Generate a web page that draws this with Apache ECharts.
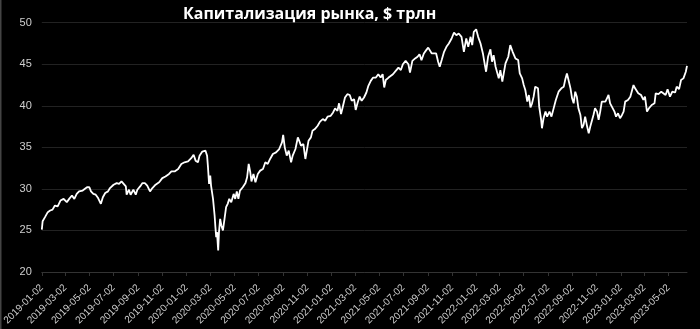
<!DOCTYPE html>
<html>
<head>
<meta charset="utf-8">
<script src="https://cdn.jsdelivr.net/npm/echarts@6/dist/echarts.min.js"></script>
<style>
html,body{margin:0;padding:0;background:#000;}
#main{width:700px;height:329px;}
</style>
</head>
<body>
<div id="main"></div>
<script>
const titleText = 'Капитализация рынка, $ трлн';
const startDate = '2019-01-02';
const endDate = '2023-06-18';
const yTicks = [20, 25, 30, 35, 40, 45, 50];

const dates = [
'2019-01-02','2019-01-04','2019-01-10','2019-01-17','2019-01-23','2019-01-29','2019-02-04','2019-02-11','2019-02-18','2019-02-26',
'2019-03-06','2019-03-12','2019-03-19','2019-03-25','2019-03-31','2019-04-06','2019-04-15','2019-04-26','2019-05-02','2019-05-06',
'2019-05-12','2019-05-18','2019-05-24','2019-05-31','2019-06-05','2019-06-11','2019-06-18','2019-06-23','2019-07-02','2019-07-10',
'2019-07-16','2019-07-22','2019-07-27','2019-08-02','2019-08-04','2019-08-10','2019-08-14','2019-08-21','2019-08-27','2019-08-31',
'2019-09-07','2019-09-13','2019-09-19','2019-09-25','2019-10-02','2019-10-08','2019-10-16','2019-10-25','2019-11-02','2019-11-10',
'2019-11-19','2019-11-25','2019-12-03','2019-12-12','2019-12-20','2019-12-28','2020-01-06','2020-01-14','2020-01-20','2020-01-25',
'2020-01-31','2020-02-04','2020-02-11','2020-02-19','2020-02-23','2020-02-25','2020-02-28','2020-03-02','2020-03-04','2020-03-09',
'2020-03-13','2020-03-15','2020-03-17','2020-03-19','2020-03-22','2020-03-24','2020-03-27','2020-03-30','2020-04-03','2020-04-07',
'2020-04-11','2020-04-15','2020-04-19','2020-04-24','2020-04-30','2020-05-04','2020-05-08','2020-05-12','2020-05-16','2020-05-23',
'2020-05-30','2020-06-03','2020-06-07','2020-06-11','2020-06-14','2020-06-19','2020-06-24','2020-06-30','2020-07-06','2020-07-13',
'2020-07-19','2020-07-25','2020-07-31','2020-08-07','2020-08-15','2020-08-23','2020-08-30','2020-09-02','2020-09-06','2020-09-11',
'2020-09-16','2020-09-22','2020-09-26','2020-10-03','2020-10-09','2020-10-14','2020-10-17','2020-10-23','2020-10-28','2020-11-01',
'2020-11-05','2020-11-11','2020-11-15','2020-11-21','2020-11-28','2020-12-04','2020-12-11','2020-12-17','2020-12-23','2020-12-31',
'2021-01-06','2021-01-11','2021-01-17','2021-01-21','2021-01-26','2021-01-30','2021-02-05','2021-02-11','2021-02-17','2021-02-22',
'2021-02-28','2021-03-04','2021-03-09','2021-03-14','2021-03-19','2021-03-25','2021-03-31','2021-04-05','2021-04-11','2021-04-17',
'2021-04-24','2021-04-30','2021-05-06','2021-05-11','2021-05-15','2021-05-19','2021-05-26','2021-05-31','2021-06-06','2021-06-13',
'2021-06-20','2021-06-26','2021-07-01','2021-07-08','2021-07-15','2021-07-19','2021-07-25','2021-08-01','2021-08-07','2021-08-12',
'2021-08-17','2021-08-23','2021-08-29','2021-09-03','2021-09-12','2021-09-17','2021-09-23','2021-09-28','2021-10-02','2021-10-07',
'2021-10-13','2021-10-19','2021-10-25','2021-11-01','2021-11-07','2021-11-13','2021-11-19','2021-11-26','2021-12-02','2021-12-08',
'2021-12-13','2021-12-19','2021-12-23','2021-12-27','2022-01-02','2022-01-07','2022-01-13','2022-01-19','2022-01-24','2022-01-27',
'2022-02-01','2022-02-07','2022-02-11','2022-02-15','2022-02-20','2022-02-24','2022-02-28','2022-03-04','2022-03-09','2022-03-13',
'2022-03-17','2022-03-24','2022-03-29','2022-04-04','2022-04-11','2022-04-18','2022-04-22','2022-04-28','2022-05-02','2022-05-06',
'2022-05-11','2022-05-15','2022-05-19','2022-05-23','2022-05-27','2022-05-31','2022-06-07','2022-06-10','2022-06-15','2022-06-17',
'2022-06-21','2022-06-26','2022-06-30','2022-07-06','2022-07-11','2022-07-16','2022-07-22','2022-07-29','2022-08-05','2022-08-11',
'2022-08-15','2022-08-19','2022-08-23','2022-08-28','2022-09-01','2022-09-05','2022-09-09','2022-09-13','2022-09-17','2022-09-22',
'2022-09-26','2022-09-30','2022-10-04','2022-10-09','2022-10-13','2022-10-17','2022-10-21','2022-10-25','2022-10-29','2022-11-03',
'2022-11-07','2022-11-11','2022-11-15','2022-11-19','2022-11-24','2022-11-28','2022-12-02','2022-12-06','2022-12-10','2022-12-17',
'2022-12-21','2022-12-26','2022-12-31','2023-01-05','2023-01-09','2023-01-13','2023-01-20','2023-01-26','2023-01-30','2023-02-03',
'2023-02-07','2023-02-11','2023-02-15','2023-02-22','2023-02-28','2023-03-04','2023-03-09','2023-03-14','2023-03-21','2023-03-28',
'2023-03-31','2023-04-07','2023-04-14','2023-04-19','2023-04-25','2023-04-30','2023-05-06','2023-05-12','2023-05-19','2023-05-23',
'2023-05-29','2023-06-03','2023-06-09','2023-06-15','2023-06-18'
];

const values = [
25.1,26.1,26.6,27.2,27.4,27.5,28.0,27.9,28.6,28.8,
28.4,28.8,29.2,28.8,29.4,29.7,29.8,30.2,30.2,29.7,
29.4,29.3,28.9,28.2,29.0,29.5,29.7,30.1,30.5,30.7,
30.6,30.9,30.9,30.3,29.3,29.9,29.3,29.9,29.3,29.9,
30.3,30.7,30.7,30.4,29.7,30.1,30.5,30.8,31.3,31.5,
31.8,32.1,32.1,32.4,33.0,33.2,33.3,33.7,34.1,33.4,
33.2,34.0,34.5,34.6,34.0,32.8,30.6,31.6,30.4,28.8,
26.8,25.4,24.2,24.8,22.6,24.8,26.4,25.6,25.0,26.4,
27.8,28.2,28.8,28.4,29.4,28.8,29.7,28.8,29.8,30.2,
30.7,31.4,33.0,32.0,30.9,31.8,30.8,31.8,32.2,32.4,
33.2,33.0,33.6,34.2,34.4,34.8,35.6,36.5,35.0,34.0,
34.6,33.2,34.0,34.8,36.2,35.6,35.2,35.4,33.6,33.8,
35.8,36.2,37.0,37.2,37.6,38.1,38.4,38.2,38.7,38.8,
39.2,39.7,39.4,40.3,39.0,39.8,41.0,41.4,41.3,40.6,
40.8,39.5,40.4,41.1,40.6,41.0,41.6,42.4,43.0,43.4,
43.4,43.8,43.4,43.8,42.2,43.1,43.4,43.6,43.8,44.2,
44.6,44.3,45.0,45.4,45.0,44.0,45.4,45.7,45.9,46.2,
45.5,46.3,46.7,47.0,46.3,46.1,46.3,45.3,44.7,45.5,
46.5,47.1,47.5,48.1,48.8,48.5,48.7,48.3,46.5,48.1,
47.1,48.3,47.3,48.9,49.2,48.3,47.5,46.3,44.9,44.1,
45.9,46.8,45.3,46.1,44.7,44.9,43.3,44.3,42.9,42.7,
45.1,45.9,47.3,46.5,45.7,45.5,43.9,43.3,42.5,41.9,
40.5,41.3,39.8,40.3,41.1,42.3,42.1,39.9,38.3,37.3,
38.5,39.3,38.7,39.3,38.7,39.6,40.7,41.7,42.1,42.3,
43.2,43.9,43.1,42.1,40.9,40.3,41.7,41.1,39.7,38.9,
37.3,37.7,38.7,37.5,36.7,37.5,37.7,38.9,39.7,39.3,
38.3,39.3,40.5,40.3,40.5,40.9,41.3,40.3,40.3,39.3,
38.7,39.1,38.5,38.9,39.3,40.5,40.7,41.1,41.3,42.5,
42.1,42.3,41.5,41.3,40.7,41.1,39.3,39.7,40.1,40.3,
41.5,41.4,41.7,41.9,41.3,42.0,41.1,41.7,41.6,42.3,
42.0,43.1,43.3,44.1,44.8
];

// all calendar days of the date axis
const categories = [];
(function(){
  const d = new Date(startDate + 'T00:00:00Z');
  const e = new Date(endDate + 'T00:00:00Z');
  while (d <= e) {
    categories.push(d.toISOString().slice(0,10));
    d.setUTCDate(d.getUTCDate() + 1);
  }
})();

function isMajor(index, value) {
  return value.slice(8) === '02' && (parseInt(value.slice(5,7), 10) % 2 === 1);
}

const chart = echarts.init(document.getElementById('main'), null, {renderer:'canvas'});
chart.setOption({
  backgroundColor: '#000',
  animation: false,
  title: {
    text: titleText,
    left: 183,
    top: 6,
    padding: 0,
    textStyle: {color:'#fff', fontSize:16, fontWeight:'bold', fontFamily:'Open Sans'}
  },
  graphic: [{type:'rect', shape:{x:0,y:0,width:1.5,height:329}, style:{fill:'#444'}}],
  grid: {left:40, right:13, top:22.7, bottom:57, containLabel:false},
  xAxis: {
    type:'category',
    data: categories,
    boundaryGap:false,
    axisLine:{show:true, lineStyle:{color:'#333', width:1}},
    axisTick:{show:true, interval:isMajor, length:4, lineStyle:{color:'#333'}},
    axisLabel:{
      interval:isMajor, rotate:45, margin:14,
      color:'#cfcfcf', fontSize:10, fontFamily:'Liberation Sans'
    },
    splitLine:{show:false}
  },
  yAxis: {
    type:'value',
    min: yTicks[0], max: yTicks[yTicks.length-1], interval:5,
    axisLine:{show:false},
    axisTick:{show:false},
    axisLabel:{color:'#cfcfcf', fontSize:11, fontFamily:'Liberation Sans', margin:10},
    splitLine:{lineStyle:{color:'#222', width:1}}
  },
  series: [{
    type:'line',
    data: dates.map((d,i) => [d, values[i]]),
    showSymbol:false,
    symbol:'none',
    lineStyle:{color:'#fff', width:1.8},
    itemStyle:{color:'#fff'}
  }]
});
</script>
</body>
</html>
